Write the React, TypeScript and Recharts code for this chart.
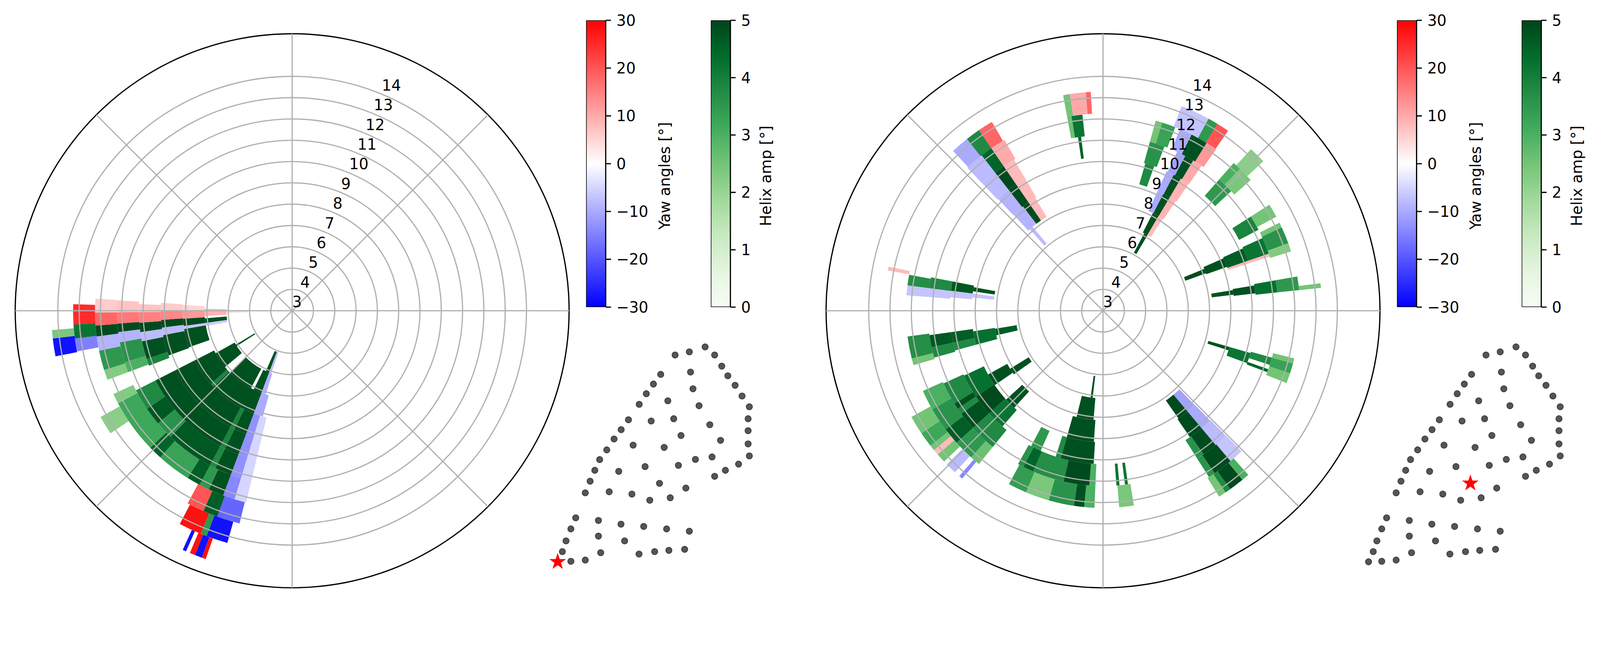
import React from 'react';
import {
  PieChart, Pie, Cell, RadarChart, PolarGrid, PolarAngleAxis, PolarRadiusAxis,
  BarChart, Bar, XAxis, YAxis, ScatterChart, Scatter,
} from 'recharts';

const FONT = "'DejaVu Sans', sans-serif";
const FS = 41.7;
const FIG_W = 4414;
const FIG_H = 1661;

// ---------- axes ----------
const speedTicks = [3, 4, 5, 6, 7, 8, 9, 10, 11, 12, 13, 14];
const SPEED_MIN = 3;
const SPEED_MAX = 15.64;
const directionSpokes = ['N', 'NE', 'E', 'SE', 'S', 'SW', 'W', 'NW'];
const yawTicks = [-30, -20, -10, 0, 10, 20, 30];
const helixTicks = [0, 1, 2, 3, 4, 5];

// ---------- data: [speed bin (k..k+1 m/s), dir start (deg), dir end (deg), value] ----------
const leftYawCells: number[][] = [
  [5, 198.5, 200.5, -8], [5, 268, 270.5, 4],
  [6, 197.5, 200.5, -9], [6, 260, 262, -6], [6, 266.5, 271.3, 9],
  [7, 195.5, 200.5, -10], [7, 260.4, 262, -7], [7, 265.8, 270, 12], [7, 270, 273, 5],
  [8, 193.5, 197, -5], [8, 197, 200.5, -13], [8, 259.3, 262.6, -8], [8, 266, 270, 14], [8, 270, 273.4, 6],
  [9, 193.5, 197, -5], [9, 197, 200.5, -13], [9, 258.5, 262, -8], [9, 265.5, 269.5, 15], [9, 269.5, 272.5, 7],
  [10, 193.5, 197, -5], [10, 197, 200.5, -13], [10, 259.6, 263, -9], [10, 265.8, 269.5, 16], [10, 269.5, 273.4, 7],
  [11, 193.5, 197, -5], [11, 197, 200.5, -14], [11, 258.3, 262.5, -9], [11, 265.7, 269.5, 18], [11, 269.5, 273.5, 6],
  [12, 193.9, 200, -18], [12, 203.9, 208.5, 20], [12, 259.3, 262.7, -15], [12, 266.4, 271.7, 25],
  [13, 195.6, 200.8, -28], [13, 202.3, 207.8, 28], [13, 259.1, 263.4, -28],
  [14, 199.2, 200.1, 28], [14, 200.1, 201.7, -28], [14, 201.7, 202.9, 28], [14, 203.8, 204.6, -28],
];
const leftHelixCells: number[][] = [
  [5, 200.5, 203.5, 4.8], [5, 237.5, 239, 4.8],
  [6, 200.5, 206, 4.8], [6, 208, 225, 4.8], [6, 230, 241, 4.8], [6, 262, 265, 4.8],
  [7, 200.5, 226, 4.8], [7, 226, 228, 3.9], [7, 228, 243, 4.8], [7, 250.5, 260.4, 4.8], [7, 262, 265.8, 4.9],
  [8, 200.5, 206, 4.8], [8, 206, 208, 3.9], [8, 208, 243, 4.8], [8, 250.1, 259.3, 4.8], [8, 262.6, 266, 4.9],
  [9, 200.5, 206, 4.8], [9, 206, 208, 3.9], [9, 208, 243, 4.8], [9, 249, 251.7, 3.9], [9, 251.7, 258.5, 4.8], [9, 262, 265.5, 4.9],
  [10, 200.5, 206, 4.8], [10, 206, 208, 3.8], [10, 208, 224, 4.7], [10, 224, 230, 3.6], [10, 230, 236, 4.7], [10, 236, 243, 3.8],
  [10, 249.5, 252.9, 3.0], [10, 252.9, 259.6, 3.6], [10, 263, 265.8, 4.9],
  [11, 200.5, 205, 4.8], [11, 205, 208, 3.5], [11, 208, 212, 4.6], [11, 212, 222, 3.3], [11, 222, 226, 4.5], [11, 226, 242, 3.2],
  [11, 242, 245, 2.3], [11, 249.5, 252.5, 2.3], [11, 252.5, 258.3, 3.5], [11, 262.5, 265.7, 4.9],
  [12, 200, 203.9, 4.6], [12, 236, 241, 2.2], [12, 262.7, 266.4, 4.2],
  [13, 200.8, 202.3, 3.5], [13, 263.4, 265.4, 2.4],
];
const rightYawCells: number[][] = [
  [7, 30.4, 33, 8], [7, 318, 320, -8],
  [8, 24.5, 27.3, -10], [8, 30.5, 33.5, 9], [8, 135.8, 140, -11], [8, 275.8, 277.5, -7], [8, 317, 322.5, -9], [8, 325.5, 329, 8],
  [9, 24.5, 27.5, -10], [9, 30.5, 34, 9], [9, 71, 72, 8], [9, 135.7, 140, -10], [9, 275, 277.5, -7], [9, 316.8, 322, -9], [9, 325.5, 329.5, 8],
  [10, 25, 28, -11], [10, 31, 34.2, 10], [10, 71, 72, 8], [10, 135.5, 140, -8], [10, 274.5, 277.4, -7], [10, 316.5, 322, -8], [10, 325.5, 329.5, 8],
  [11, 23, 26.7, -10], [11, 31.7, 35, 12], [11, 135.4, 139.7, -7], [11, 274.5, 277.4, -7], [11, 316.5, 322, -8], [11, 325.5, 330, 10],
  [12, 21, 28.8, -7], [12, 31.5, 34.8, 20], [12, 220, 221, -14], [12, 222.5, 225.5, -8], [12, 229, 230.5, 8], [12, 280.6, 281.6, 8],
  [12, 316.8, 321.6, -10], [12, 325.5, 329.5, 18], [12, 351.3, 355.5, 10], [12, 355.5, 356.8, 18],
];
const rightHelixCells: number[][] = [
  [6, 28, 30.5, 4.8], [6, 186.8, 188.2, 4.8],
  [7, 27, 30.4, 4.8], [7, 67.5, 70, 4.9], [7, 185, 194, 4.8], [7, 234.5, 238, 4.8], [7, 257, 260.5, 4.6],
  [8, 27.3, 30.5, 4.8], [8, 66.5, 70.5, 4.8], [8, 81, 83, 4.8], [8, 106, 107.5, 4.8], [8, 140, 145, 4.9], [8, 184, 196, 4.8],
  [8, 222.5, 227.5, 4.8], [8, 235.5, 241, 4.8], [8, 255, 261, 4.3], [8, 278.5, 280.3, 4.8], [8, 322.5, 325.5, 4.9],
  [9, 16, 19.5, 3.8], [9, 27.5, 30.5, 4.8], [9, 66, 71, 4.6], [9, 80.5, 83.5, 4.8], [9, 106, 110, 4.2], [9, 140, 145.5, 4.9],
  [9, 183.5, 196, 4.8], [9, 196, 198, 3.8], [9, 204, 208, 3.5], [9, 221, 228, 4.2], [9, 228, 236, 4.9], [9, 236, 245, 4.3],
  [9, 255, 258, 3.8], [9, 258, 262, 4.6], [9, 277.5, 281, 4.7], [9, 322, 325.5, 4.9],
  [10, 15.5, 20.5, 3.6], [10, 28, 31, 4.8], [10, 41.5, 47, 3.5], [10, 57.5, 62.5, 3.9], [10, 65.5, 71, 4.2], [10, 80, 84, 4.3],
  [10, 105.5, 108, 3.8], [10, 109.5, 110.5, 4.5], [10, 140, 145, 4.9], [10, 145, 147.5, 3.6], [10, 171.8, 172.8, 4.2], [10, 174.6, 175.6, 4.2],
  [10, 182.5, 184.5, 3.0], [10, 184.5, 193, 4.9], [10, 193, 203.5, 3.7], [10, 203.5, 207, 4.5], [10, 207, 209, 3.6],
  [10, 219, 228, 3.8], [10, 228, 234, 4.8], [10, 234, 236, 3.8], [10, 236, 238, 4.8], [10, 238, 245.5, 3.8],
  [10, 254.5, 258, 3.8], [10, 258, 262, 4.7], [10, 277.4, 281, 3.8], [10, 322, 325.5, 4.9], [10, 351.8, 352.8, 4.5],
  [11, 15.5, 17.5, 2.5], [11, 17.5, 21.5, 3.3], [11, 26.7, 31.7, 4.8], [11, 41.5, 44, 3.0], [11, 44, 48.5, 2.4], [11, 57.5, 61.5, 2.5],
  [11, 63.5, 65, 2.5], [11, 65, 70, 3.6], [11, 70, 72.5, 2.3], [11, 80, 84, 3.5], [11, 104, 105.5, 2.5], [11, 105.5, 108.5, 3.3],
  [11, 108.5, 111.5, 2.5], [11, 139.7, 145.5, 4.9], [11, 145.5, 147.5, 3.6], [11, 171, 175.3, 2.4],
  [11, 182.5, 185.5, 3.0], [11, 185.5, 188.5, 4.8], [11, 188.5, 196, 3.6], [11, 196, 203, 2.4], [11, 203, 208.5, 3.4],
  [11, 219, 222, 2.6], [11, 222, 228, 3.5], [11, 228, 233, 4.6], [11, 233, 240, 3.6], [11, 240, 246, 3.0],
  [11, 254, 256, 2.5], [11, 256, 262.5, 3.7], [11, 277.4, 280.5, 3.7], [11, 322, 325.5, 4.5], [11, 349.5, 350.8, 2.6], [11, 350.8, 354, 4.2],
  [12, 28.8, 31.5, 3.5], [12, 42.5, 47, 2.2], [12, 82.8, 84, 2.5], [12, 138.5, 140.5, 3.0], [12, 140.5, 144.5, 4.9], [12, 144.5, 146, 3.8],
  [12, 146, 148, 2.5], [12, 226.5, 229, 2.5], [12, 230.5, 232, 2.5], [12, 232, 236, 3.2], [12, 236, 241, 2.5],
  [12, 321.6, 325.5, 3.8], [12, 349.5, 351.3, 2.5],
];

// wind farm layout (digitised positions, arbitrary units, y up)
const turbineX = [862, 944, 1035, 1090, 1131, 1166, 1208, 1248, 1290, 1283, 1283, 1283, 1290, 1228, 1152, 1090,
  779, 737, 696, 655, 593, 551, 510, 468, 427, 399, 372, 344,
  951, 965, 1000, 820, 724, 854, 1062, 896, 1124, 620, 799, 1075, 979, 881, 689, 537, 772, 924, 482, 613, 716, 834,
  289, 420, 550, 681, 813, 944, 261, 233, 420, 571, 212, 433, 654, 744, 826, 917, 261, 344, 185];
const turbineY = [1237, 1255, 1283, 1237, 1174, 1119, 1065, 1004, 943, 875, 807, 732, 664, 617, 582, 548,
  1127, 1072, 1017, 957, 869, 813, 760, 698, 643, 582, 520, 454,
  1140, 1045, 949, 977, 862, 875, 841, 780, 752, 725, 712, 658, 644, 610, 603, 576, 508, 481, 460, 447, 412, 426,
  312, 297, 276, 263, 249, 236, 249, 181, 208, 181, 120, 114, 106, 120, 127, 133, 65, 72, 62];
const leftTarget = 68;
const rightTarget = 44;

// ---------- colour maps ----------
const GREENS = ['#f7fcf5', '#e5f5e0', '#c7e9c0', '#a1d99b', '#74c476', '#41ab5d', '#238b45', '#006d2c', '#00441b'];
const hex = (h: string) => [1, 3, 5].map((i) => parseInt(h.slice(i, i + 2), 16));
function greens(v: number) {
  const t = Math.max(0, Math.min(1, v / 5)) * 8;
  const i = Math.min(7, Math.floor(t));
  const f = t - i;
  const a = hex(GREENS[i]);
  const b = hex(GREENS[i + 1]);
  const c = a.map((x, k) => Math.round(x + (b[k] - x) * f));
  return `rgb(${c[0]},${c[1]},${c[2]})`;
}
function bwr(v: number) {
  const t = Math.max(0, Math.min(1, (v + 30) / 60));
  if (t < 0.5) {
    const c = Math.round(510 * t);
    return `rgb(${c},${c},255)`;
  }
  const c = Math.round(510 * (1 - t));
  return `rgb(255,${c},${c})`;
}

function buildRings(yaw: number[][], helix: number[][]) {
  const all = [
    ...yaw.map((c) => ({ ring: c[0], t0: c[1], t1: c[2], fill: bwr(c[3]) })),
    ...helix.map((c) => ({ ring: c[0], t0: c[1], t1: c[2], fill: greens(c[3]) })),
  ];
  const ringIds = Array.from(new Set(all.map((c) => c.ring))).sort((a, b) => a - b);
  return ringIds.map((ring) => {
    const list = all.filter((c) => c.ring === ring).sort((a, b) => a.t0 - b.t0);
    const data: { v: number; fill: string }[] = [];
    let pos = 0;
    list.forEach((c) => {
      if (c.t0 > pos + 1e-6) data.push({ v: c.t0 - pos, fill: 'none' });
      data.push({ v: c.t1 - c.t0, fill: c.fill });
      pos = c.t1;
    });
    if (pos < 360) data.push({ v: 360 - pos, fill: 'none' });
    return { ring, data };
  });
}

const spokeData = directionSpokes.map((d) => ({ dir: d }));

const RTick = (props: any) => (
  <text x={props.x} y={props.y - 9.8} textAnchor="start" fontSize={FS} fontFamily={FONT} fill="#000">
    {props.payload.value}
  </text>
);

const R = 764;
const SIZE = 1560;
const C = SIZE / 2;

function PolarPanel({ cx, cy, yaw, helix }: { cx: number; cy: number; yaw: number[][]; helix: number[][] }) {
  const unit = R / (SPEED_MAX - SPEED_MIN);
  const rings = buildRings(yaw, helix);
  return (
    <div style={{ position: 'absolute', left: cx - C, top: cy - C, width: SIZE, height: SIZE }}>
      <div style={{ position: 'absolute', left: 0, top: 0 }}>
        <PieChart width={SIZE} height={SIZE} margin={{ top: 0, right: 0, bottom: 0, left: 0 }}>
          {rings.map(({ ring, data }) => (
            <Pie
              key={ring}
              data={data}
              dataKey="v"
              cx={C}
              cy={C}
              innerRadius={(ring - SPEED_MIN) * unit}
              outerRadius={(ring + 1 - SPEED_MIN) * unit}
              startAngle={90}
              endAngle={-270}
              paddingAngle={0}
              stroke="none"
              label={false}
              labelLine={false}
              isAnimationActive={false}
            >
              {data.map((d, i) => (
                <Cell key={i} fill={d.fill} stroke="none" />
              ))}
            </Pie>
          ))}
          <Pie
            data={[{ v: 1 }]}
            dataKey="v"
            cx={C}
            cy={C}
            innerRadius={R - 1.7}
            outerRadius={R + 1.7}
            startAngle={90}
            endAngle={-270}
            fill="#000"
            stroke="none"
            isAnimationActive={false}
          />
        </PieChart>
      </div>
      <div style={{ position: 'absolute', left: 0, top: 0 }}>
        <RadarChart
          width={SIZE}
          height={SIZE}
          cx={C}
          cy={C}
          innerRadius={0}
          outerRadius={R}
          startAngle={90}
          endAngle={-270}
          data={spokeData}
          margin={{ top: 0, right: 0, bottom: 0, left: 0 }}
        >
          <PolarGrid gridType="circle" stroke="#b0b0b0" strokeWidth={3.3} />
          <PolarAngleAxis dataKey="dir" tick={false} axisLine={false} tickLine={false} />
          <PolarRadiusAxis
            angle={67.5}
            type="number"
            domain={[SPEED_MIN, SPEED_MAX]}
            ticks={speedTicks}
            allowDataOverflow
            axisLine={false}
            tickLine={false}
            tick={RTick}
          />
        </RadarChart>
      </div>
    </div>
  );
}

const fmtMinus = (v: number) => (v < 0 ? `\u2212${-v}` : `${v}`);

function Colorbar({ left, top, ticks, domain, stops, id }: any) {
  const barW = 54;
  const barH = 791;
  const axisW = 150;
  const pad = 30;
  return (
    <div style={{ position: 'absolute', left, top: top - pad }}>
      <BarChart
        width={barW + axisW}
        height={barH + 2 * pad}
        data={[{ name: 'cb', range: domain }]}
        margin={{ top: pad, right: 0, bottom: pad, left: 0 }}
        barCategoryGap={0}
      >
        <defs>
          <linearGradient id={id} x1="0" y1="1" x2="0" y2="0">
            {stops.map((s: any, i: number) => (
              <stop key={i} offset={s.o} stopColor={s.c} />
            ))}
          </linearGradient>
        </defs>
        <XAxis dataKey="name" hide />
        <YAxis
          orientation="right"
          type="number"
          domain={domain}
          ticks={ticks}
          interval={0}
          allowDataOverflow
          width={axisW}
          axisLine={false}
          tickSize={14.6}
          tickMargin={15}
          tickLine={{ stroke: '#000', strokeWidth: 3.3 }}
          tick={{ fill: '#000', fontSize: FS, fontFamily: FONT }}
          tickFormatter={fmtMinus}
        />
        <Bar dataKey="range" fill={`url(#${id})`} stroke="#000" strokeWidth={3.3} isAnimationActive={false} />
      </BarChart>
    </div>
  );
}

const yawStops = [
  { o: 0, c: '#0000ff' },
  { o: 0.5, c: '#ffffff' },
  { o: 1, c: '#ff0000' },
];
const helixStops = GREENS.map((c, i) => ({ o: i / 8, c }));

const dotShape = (p: any) => <circle cx={p.cx} cy={p.cy} r={8.5} fill="#555555" stroke="#3a3a3a" strokeWidth={2} />;
const starShape = (p: any) => {
  const Ro = 23;
  const Ri = Ro * 0.381966;
  const pts: string[] = [];
  for (let i = 0; i < 10; i++) {
    const r = i % 2 === 0 ? Ro : Ri;
    const a = -Math.PI / 2 + (i * Math.PI) / 5;
    pts.push(`${p.cx + r * Math.cos(a)},${p.cy + r * Math.sin(a)}`);
  }
  return <polygon points={pts.join(' ')} fill="#ff0000" stroke="#ff0000" strokeWidth={1} />;
};

function Layout({ left, top, target }: { left: number; top: number; target: number }) {
  const pts = turbineX.map((x, i) => ({ x, y: turbineY[i] }));
  const others = pts.filter((_, i) => i !== target);
  return (
    <div style={{ position: 'absolute', left, top }}>
      <ScatterChart width={750} height={761} margin={{ top: 0, right: 0, bottom: 0, left: 0 }}>
        <XAxis type="number" dataKey="x" domain={[0, 1567.5]} allowDataOverflow hide />
        <YAxis type="number" dataKey="y" domain={[-167.7, 1400]} allowDataOverflow hide />
        <Scatter data={others} shape={dotShape} isAnimationActive={false} />
        <Scatter data={[pts[target]]} shape={starShape} isAnimationActive={false} />
      </ScatterChart>
    </div>
  );
}

const DX = 2237;

export default function App() {
  const vw = typeof window !== 'undefined' ? window.innerWidth : FIG_W;
  const vh = typeof window !== 'undefined' ? window.innerHeight : FIG_H;
  const s = Math.min(1, vw / FIG_W, vh / FIG_H);
  const labels = [
    { x: 1834, t: 'Yaw angles [°]' },
    { x: 2113, t: 'Helix amp [°]' },
    { x: 1834 + DX, t: 'Yaw angles [°]' },
    { x: 2113 + DX, t: 'Helix amp [°]' },
  ];
  return (
    <div style={{ position: 'absolute', left: 0, top: 0, width: FIG_W * s, height: FIG_H * s, overflow: 'hidden', background: '#fff' }}>
      <div
        style={{
          position: 'absolute',
          left: 0,
          top: 0,
          width: FIG_W,
          height: FIG_H,
          transform: `scale(${s})`,
          transformOrigin: '0 0',
        }}
      >
        <PolarPanel cx={806} cy={857} yaw={leftYawCells} helix={leftHelixCells} />
        <PolarPanel cx={806 + DX} cy={857} yaw={rightYawCells} helix={rightHelixCells} />
        <Colorbar left={1617} top={56} ticks={yawTicks} domain={[-30, 30]} stops={yawStops} id="yawL" />
        <Colorbar left={1961} top={56} ticks={helixTicks} domain={[0, 5]} stops={helixStops} id="helixL" />
        <Colorbar left={1617 + DX} top={56} ticks={yawTicks} domain={[-30, 30]} stops={yawStops} id="yawR" />
        <Colorbar left={1961 + DX} top={56} ticks={helixTicks} domain={[0, 5]} stops={helixStops} id="helixR" />
        <Layout left={1450} top={900} target={leftTarget} />
        <Layout left={1450 + DX} top={900} target={rightTarget} />
        <svg width={FIG_W} height={FIG_H} style={{ position: 'absolute', left: 0, top: 0, pointerEvents: 'none' }}>
          {labels.map((l, i) => (
            <text
              key={i}
              x={l.x}
              y={485}
              transform={`rotate(-90 ${l.x} 485)`}
              textAnchor="middle"
              dominantBaseline="central"
              fontSize={FS}
              fontFamily={FONT}
              fill="#000"
            >
              {l.t}
            </text>
          ))}
        </svg>
      </div>
    </div>
  );
}
